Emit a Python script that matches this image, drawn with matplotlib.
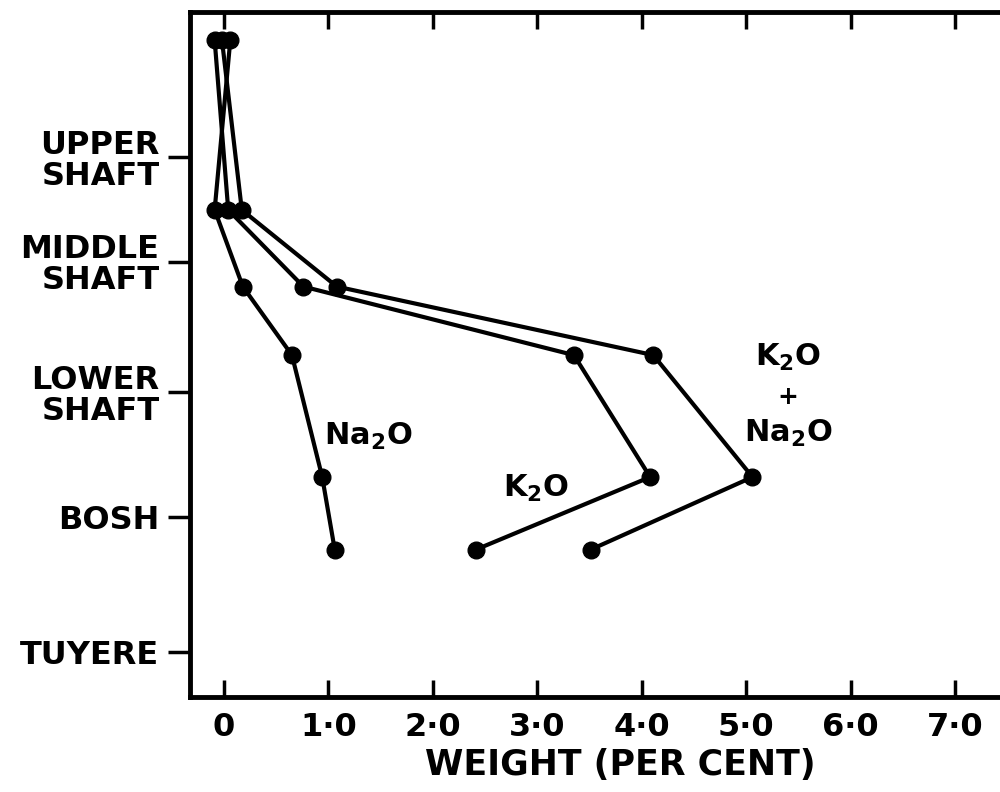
import numpy as np
import matplotlib
matplotlib.use("Agg")
import matplotlib.pyplot as plt

plt.rcParams['font.family'] = ['DejaVu Sans']
plt.rcParams['mathtext.default'] = 'regular'

# depth down the furnace (arbitrary units, 0 = top of chart)
depth = [0.41, 2.89, 4.01, 5.01, 6.79, 7.85]

# weight per cent
na2o = [0.06, -0.09, 0.18, 0.65, 0.94, 1.06]
k2o = [-0.09, 0.04, 0.76, 3.35, 4.08, 2.41]
k2o_na2o = [-0.02, 0.17, 1.08, 4.11, 5.06, 3.51]

zone_pos = [2.12, 3.65, 5.55, 7.37, 9.34]
zone_labels = ["UPPER\nSHAFT", "MIDDLE\nSHAFT", "LOWER\nSHAFT", "BOSH", "TUYERE"]

xticks = [0, 1, 2, 3, 4, 5, 6, 7]
xtick_labels = ["0", "1·0", "2·0", "3·0", "4·0", "5·0", "6·0", "7·0"]

fig = plt.figure(figsize=(10, 7.92), dpi=100)
ax = fig.add_axes([0.19, 0.12, 0.81, 0.865])

for s in [na2o, k2o, k2o_na2o]:
    ax.plot(s, depth, color='black', lw=3, marker='o', ms=12, zorder=3)

ax.set_xlim(-0.326, 7.43)
ax.set_ylim(10, 0)

ax.spines['right'].set_visible(False)
for sp in ['left', 'top', 'bottom']:
    ax.spines[sp].set_linewidth(3.5)

ax.set_xticks(xticks)
ax.set_xticklabels(xtick_labels, fontsize=23, fontweight='bold')
ax.tick_params(axis='x', direction='in', length=12, width=2.5, top=True, pad=11)

ax.set_yticks(zone_pos)
ax.set_yticklabels(zone_labels, fontsize=23, fontweight='bold', linespacing=1.0)
ax.tick_params(axis='y', direction='out', length=16, width=2.5, pad=6)

ax.set_xlabel("WEIGHT (PER CENT)", fontsize=25, fontweight='bold', va='center')
ax.xaxis.set_label_coords(0.531, -0.099)

lab = dict(fontsize=22, fontweight='bold')
ax.text(0.96, 6.2, "Na$_2$O", ha='left', va='center', **lab)
ax.text(2.99, 6.95, "K$_2$O", ha='center', va='center', **lab)
ax.text(5.4, 5.05, "K$_2$O", ha='center', va='center', **lab)
ax.text(5.4, 5.62, "+", fontsize=18, fontweight='bold', ha='center', va='center')
ax.text(5.4, 6.15, "Na$_2$O", ha='center', va='center', **lab)

fig.savefig("out.png", dpi=100)
